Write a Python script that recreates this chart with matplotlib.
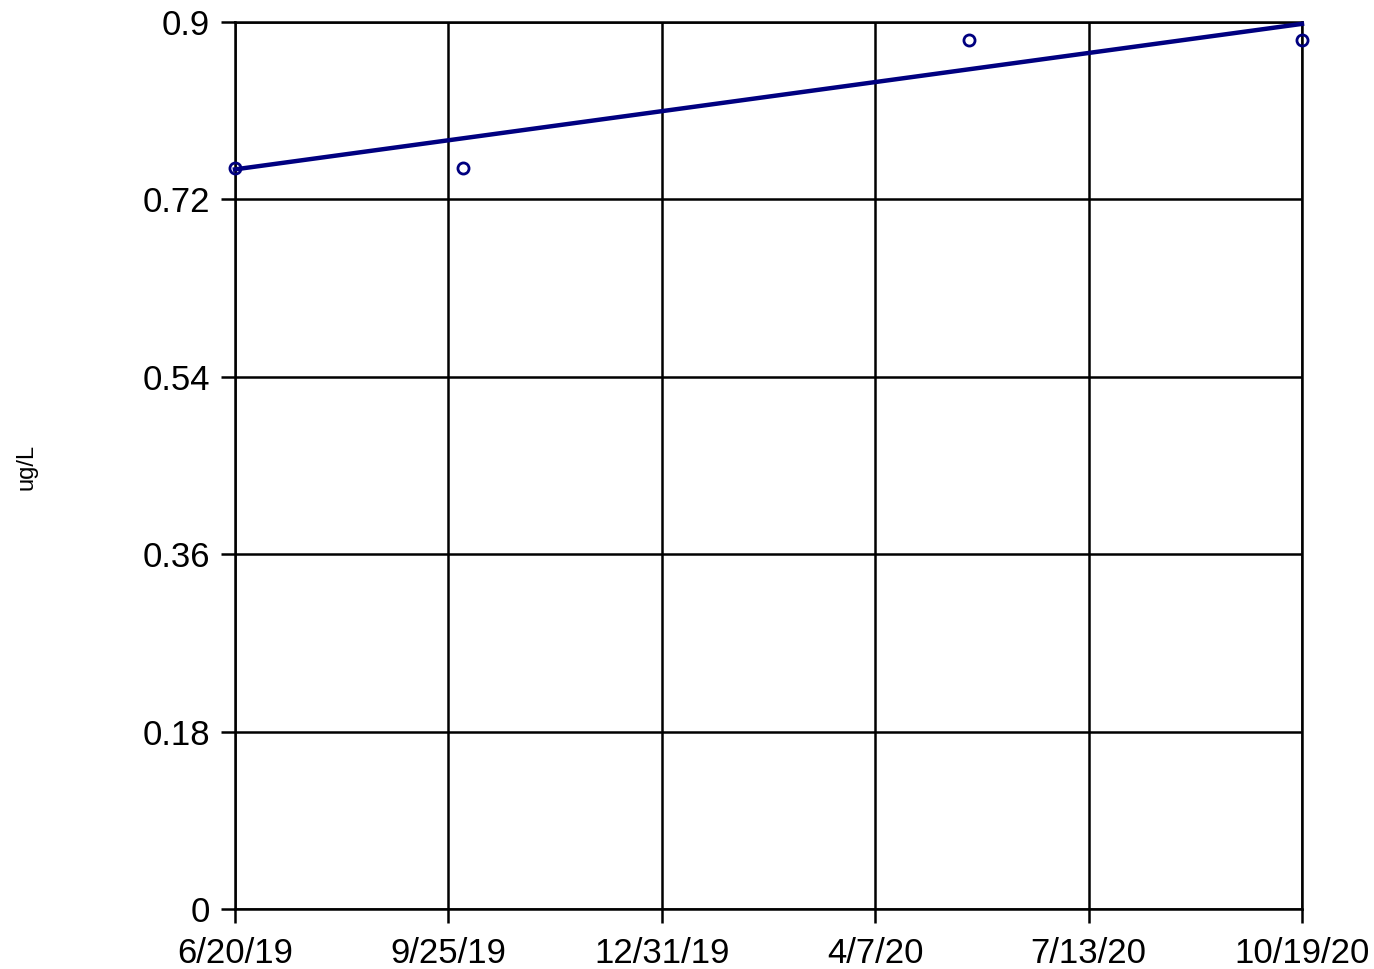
import matplotlib
matplotlib.use("Agg")
import matplotlib.pyplot as plt
import matplotlib.dates as mdates
import numpy as np
from datetime import datetime
from itertools import combinations

plt.rcParams['font.family'] = ['Liberation Sans', 'DejaVu Sans']

# sample results
sample_dates = ["2019-06-20", "2019-10-02", "2020-05-20", "2020-10-19"]
sample_values = [0.752, 0.752, 0.882, 0.882]

x_start = "2019-06-20"
x_end = "2020-10-19"
y_ticks = [0, 0.18, 0.36, 0.54, 0.72, 0.9]
y_ticklabels = ["0", "0.18", "0.36", "0.54", "0.72", "0.9"]
navy = "#000080"

dates = [datetime.strptime(d, "%Y-%m-%d") for d in sample_dates]
xnum = mdates.date2num(dates)
x0 = mdates.date2num(datetime.strptime(x_start, "%Y-%m-%d"))
x1 = mdates.date2num(datetime.strptime(x_end, "%Y-%m-%d"))

# Sen's slope trend (median of pairwise slopes)
days = xnum - x0
vals = np.array(sample_values)
slopes = [(vals[j] - vals[i]) / (days[j] - days[i])
          for i, j in combinations(range(len(days)), 2)]
slope = np.median(slopes)
intercept = np.median(vals) - slope * np.median(days)

fig = plt.figure(figsize=(13.74, 9.69), dpi=100)
ax = fig.add_axes([0.171, 0.0619, 0.7766, 0.9154])

trend_x = np.array([x0, x1])
ax.plot(trend_x, intercept + slope * (trend_x - x0), color=navy, lw=3.2,
        zorder=3, clip_on=False)

ax.plot(xnum, sample_values, 'o', ms=8, mfc='none', mec=navy, mew=2,
        zorder=4, clip_on=False)

ax.set_xlim(x0, x1)
ax.set_ylim(0, 0.9)
xticks = np.linspace(x0, x1, 6)
ax.set_xticks(xticks)
ax.set_xticklabels([mdates.num2date(t).strftime("%-m/%-d/%y") for t in xticks])
ax.set_yticks(y_ticks)
ax.set_yticklabels(y_ticklabels)

ax.grid(True, color='black', lw=1.8)
for s in ax.spines.values():
    s.set_linewidth(1.8)
    s.set_color('black')
ax.tick_params(axis='both', direction='out', length=10, width=1.8,
               labelsize=25)
ax.tick_params(axis='y', pad=8)
ax.tick_params(axis='x', pad=10)

fig.text(0.019, 0.518, "ug/L", rotation=90, va='center', ha='center', fontsize=17)

fig.savefig("out.png", dpi=100)
